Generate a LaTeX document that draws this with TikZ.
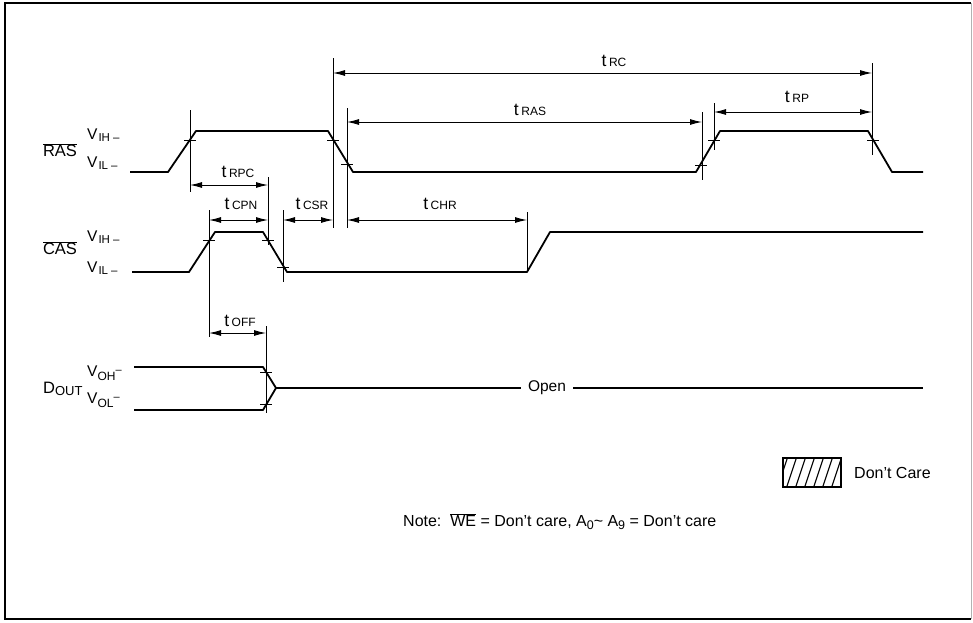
\documentclass[tikz,border=0pt]{standalone}
\usepackage{fontspec}
\setmainfont{Liberation Sans}
\usetikzlibrary{arrows.meta}
\newcommand{\tlbl}[1]{{\fontsize{17.5}{17.5}\selectfont t}\hspace{2.5pt}{\fontsize{12}{12}\selectfont #1}}
\newcommand{\vlvl}[2]{V\hspace{1pt}\raisebox{#2}{\fontsize{11.5}{11.5}\selectfont #1\hspace{3pt}–}}

\begin{document}
\begin{tikzpicture}[x=1pt,y=-1pt,
	sig/.style={line width=1.8pt,line join=round},
	refline/.style={line width=0.9pt},
	dim/.style={line width=0.9pt,{Latex[length=12pt,width=6pt]}-{Latex[length=12pt,width=6pt]}},
	lbl/.style={font=\fontsize{16}{16}\selectfont,inner sep=0pt},
	lvl/.style={font=\fontsize{15.5}{15.5}\selectfont,inner sep=0pt,anchor=west}]
	\useasboundingbox (0,0) rectangle (973,622);
	\draw[line width=2pt] (971,3) -- (5,3) -- (5,619) -- (971,619);
	\draw[line width=1pt,gray!60] (971,3) -- (971,619);
	% signal names and levels
	\node[lbl,font=\fontsize{16.5}{16.5}\selectfont] (ras) at (60,150) {$\overline{\mbox{RAS}}$};
	\node[lvl] (ras-h) at (87,135) {\vlvl{IH}{-2pt}};
	\node[lvl] (ras-l) at (87,163) {\vlvl{IL}{-2pt}};
	\node[lbl,font=\fontsize{16.5}{16.5}\selectfont] (cas) at (60,248) {$\overline{\mbox{CAS}}$};
	\node[lvl] (cas-h) at (87,237) {\vlvl{IH}{-2pt}};
	\node[lvl] (cas-l) at (87,268) {\vlvl{IL}{-2pt}};
	\node[lbl,anchor=west,font=\fontsize{16.5}{16.5}\selectfont] (dout) at (43,389) {D\raisebox{-2.5pt}{\fontsize{13}{13}\selectfont OUT}};
	\node[lvl] (dout-h) at (87,373) {V\raisebox{-4pt}{\fontsize{12}{12}\selectfont OH}\raisebox{3pt}{\fontsize{11}{11}\selectfont –}};
	\node[lvl] (dout-l) at (87,400) {V\raisebox{-4pt}{\fontsize{12}{12}\selectfont OL}\raisebox{3pt}{\fontsize{11}{11}\selectfont –}};
	% waveforms
	\draw[sig] (130,172) -- (168,172) -- (196,131) -- (328,131) -- (353,172) -- (696,172) -- (720,131) -- (868,131) -- (892,172) -- (923,172);
	\draw[sig] (132,272) -- (189,272) -- (215,232) -- (263,232) -- (287,272) -- (527,272) -- (550,232) -- (923,232);
	\coordinate (dx) at (276,388);
	\node[font=\fontsize{15.5}{15.5}\selectfont,inner sep=7pt] (open) at (547,388) {Open};
	\draw[sig] (134,367) -- (263,367) -- (dx) -- (263,410) -- (134,410);
	\draw[sig] (dx) -- (open.west);
	\draw[sig] (open.east) -- (923,388);
	% reference lines and crossings
	\foreach \x/\ya/\yb in {190/110/192, 333/58/228, 347/108/228, 702/112/180, 714/103/150, 872/63/155,
		209/210/337, 268/177/245, 283/210/282, 527/212/272, 266/326/413}
		\draw[refline] (\x,\ya) -- (\x,\yb);
	\foreach \x/\y in {190/140, 333/140, 347/164, 701/165, 714/140, 873/140, 209/240, 268/240, 283/267, 266/372, 266/404}
		\draw[refline] (\x-6,\y) -- (\x+6,\y);
	% timing intervals
	\foreach \n/\xa/\xb/\y in {rc/333/872/73, ras/347/702/122, rp/714/872/112, rpc/190/268/185,
		cpn/209/268/220, csr/283/333/220, chr/347/527/220, off/209/266/333} {
		\coordinate (\n-a) at (\xa,\y);
		\coordinate (\n-b) at (\xb,\y);
		\draw[dim] (\n-a) -- (\n-b);
	}
	\node[lbl] (t-rc) at (614,61) {\tlbl{RC}};
	\node[lbl] (t-ras) at (530,110) {\tlbl{RAS}};
	\node[lbl] (t-rp) at (797,97) {\tlbl{RP}};
	\node[lbl] (t-rpc) at (238,172) {\tlbl{RPC}};
	\node[lbl] (t-cpn) at (241,204) {\tlbl{CPN}};
	\node[lbl] (t-csr) at (312,204) {\tlbl{CSR}};
	\node[lbl] (t-chr) at (440,204) {\tlbl{CHR}};
	\node[lbl] (t-off) at (240,321) {\tlbl{OFF}};
	% legend and note
	\begin{scope}
		\clip (783,458) rectangle (841,487);
		\foreach \i in {0,...,7}
			\draw[line width=1.1pt] (777+\i*9,489) -- (788+\i*9,456);
	\end{scope}
	\draw[line width=1.6pt] (783,458) rectangle (841,487);
	\node[lbl,anchor=west] (dc) at (854,473) {Don't Care};
	\node[lbl,anchor=west] (note) at (403,522) {Note:\ \ $\overline{\mbox{WE}}$ = Don't care, A\raisebox{-3pt}{\fontsize{12.5}{12.5}\selectfont 0}\textasciitilde\ A\raisebox{-3pt}{\fontsize{12.5}{12.5}\selectfont 9} = Don't care};
\end{tikzpicture}
\end{document}
